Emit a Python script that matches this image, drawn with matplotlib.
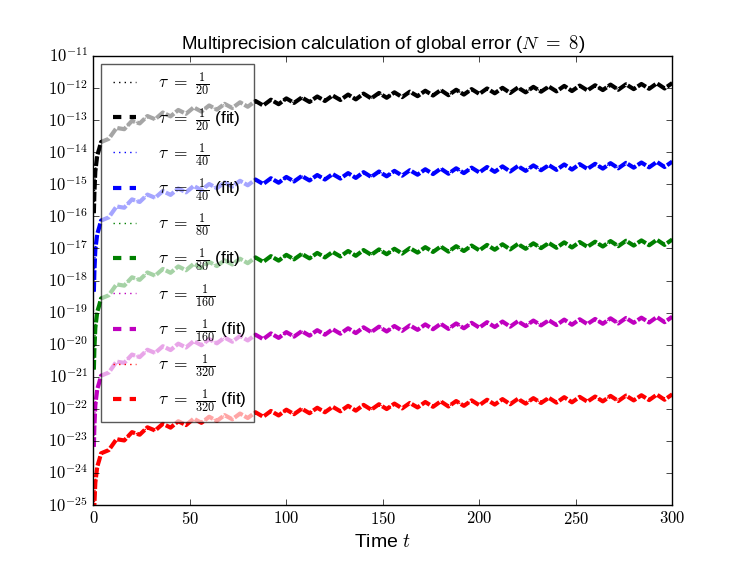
import matplotlib
matplotlib.use("Agg")
import numpy as np
import matplotlib.pyplot as plt
from matplotlib.lines import Line2D
from matplotlib.ticker import FuncFormatter, LogLocator, NullLocator, MultipleLocator

# time samples (early start, then every 4 time units)
t_early = [0.25, 0.5, 1, 2, 3]
t_main = list(np.arange(4, 301, 4))
t_vals = np.array(t_early + t_main, dtype=float)

# log10 of global error for tau = 1/20
log_err_20 = [
    -15.9, -15.3, -14.6, -14.1, -13.9,
    -13.68, -13.58, -13.24, -13.28, -13.02, -13.10, -12.87, -12.97, -12.76, -12.88,
    -12.68, -12.80, -12.60, -12.73, -12.54, -12.67, -12.49, -12.62, -12.44, -12.58,
    -12.40, -12.54, -12.36, -12.50, -12.32, -12.46, -12.29, -12.43, -12.26, -12.40,
    -12.23, -12.37, -12.20, -12.35, -12.17, -12.32, -12.15, -12.30, -12.13, -12.28,
    -12.11, -12.25, -12.08, -12.23, -12.06, -12.22, -12.05, -12.20, -12.03, -12.18,
    -12.01, -12.16, -11.99, -12.15, -11.98, -12.13, -11.96, -12.11, -11.95, -12.10,
    -11.93, -12.09, -11.92, -12.07, -11.91, -12.06, -11.89, -12.05, -11.88, -12.03,
    -11.87, -12.02, -11.85, -12.01, -11.84,
]

# each halving of tau drops the curve by about this many decades (read at t=300)
tau_denoms = [20, 40, 80, 160, 320]
tau_offset_dex = [0.0, -2.45, -4.88, -7.29, -9.71]
colors = ["k", "b", "g", "m", "r"]

plt.style.use("classic")
plt.rcParams["mathtext.fontset"] = "cm"
plt.rcParams["font.family"] = ["Liberation Sans", "DejaVu Sans"]

fig = plt.figure(figsize=(7.47, 5.61), dpi=100, facecolor="white")
ax = fig.add_subplot(111)

handles, labels = [], []
for den, off, col in zip(tau_denoms, tau_offset_dex, colors):
    err = 10.0 ** (np.array(log_err_20) + off)
    ax.semilogy(t_vals, err, ":", color=col, lw=1.0)
    # fit line: the dashes blur into a near-solid wavy band in the original
    ax.semilogy(t_vals, err, color=col, lw=3.0, dashes=(7, 1.5))
    handles.append(Line2D([], [], ls=":", color=col, lw=1.0))
    labels.append(r"$\tau\ =\ \frac{1}{%d}$" % den)
    handles.append(Line2D([], [], ls="--", color=col, lw=3.0))
    labels.append(r"$\tau\ =\ \frac{1}{%d}$ (fit)" % den)

ax.set_xlim(0, 300)
ax.set_ylim(1e-25, 1e-11)
ax.xaxis.set_major_locator(MultipleLocator(50))
ax.yaxis.set_major_locator(LogLocator(base=10, numticks=30))
ax.yaxis.set_minor_locator(NullLocator())
ax.xaxis.set_major_formatter(FuncFormatter(lambda v, p: r"$%d$" % v))
ax.yaxis.set_major_formatter(FuncFormatter(lambda v, p: r"$10^{%d}$" % round(np.log10(v))))

ax.set_title(r"Multiprecision calculation of global error ($N\ =\ 8$)", fontsize=13.5)
ax.set_xlabel(r"Time $t$", fontsize=14)

leg = ax.legend(handles, labels, loc="upper left", framealpha=0.65,
                fontsize=12.5, labelspacing=0.45, handlelength=1.9,
                handletextpad=1.0, borderaxespad=0.45)
leg.get_frame().set_edgecolor("black")

fig.savefig("out.png", dpi=100, facecolor="white")
